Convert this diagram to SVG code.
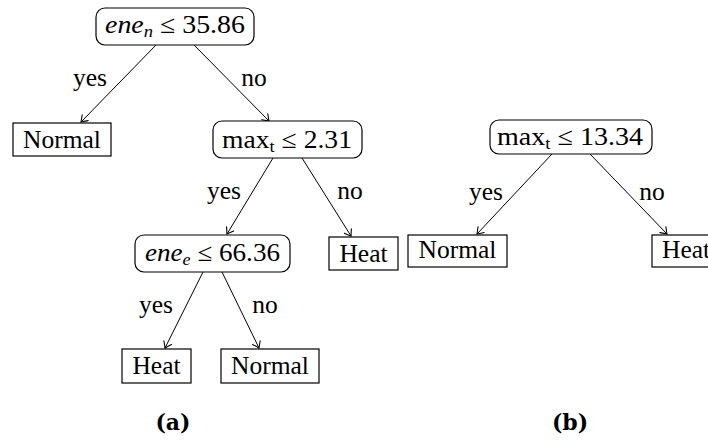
<svg xmlns="http://www.w3.org/2000/svg" width="708" height="441" viewBox="0 0 708 441">
<defs>
<style>
text{font-family:"Liberation Serif","DejaVu Serif",serif;font-size:25.5px;fill:#000}
.lbl{text-anchor:middle}
.cap{font-family:"DejaVu Serif","Liberation Serif",serif;font-weight:bold;font-size:22px;text-anchor:middle}
.it{font-style:italic}
.sub{font-size:17px}
.dec{fill:#fff;stroke:#000;stroke-width:1.2}
.leaf{fill:#fff;stroke:#000;stroke-width:1.2}
.edge{stroke:#000;stroke-width:1;fill:none;marker-end:url(#arr)}
</style>
<marker id="arr" viewBox="-7 -5 8 10" refX="0" refY="0" markerWidth="8" markerHeight="10" markerUnits="userSpaceOnUse" orient="auto">
<path d="M-6,-4.2 Q-1.8,-1.2 0,0 Q-1.8,1.2 -6,4.2" fill="none" stroke="#000" stroke-width="1.1" stroke-linecap="round"/>
</marker>
</defs>
<rect width="708" height="441" fill="#fff"/>
<g id="connectors">
<line class="edge" x1="156" y1="45" x2="81" y2="122"/>
<line class="edge" x1="194" y1="45" x2="269" y2="121"/>
<line class="edge" x1="273" y1="158" x2="227" y2="234"/>
<line class="edge" x1="302" y1="158" x2="351" y2="236"/>
<line class="edge" x1="203" y1="272" x2="165" y2="348"/>
<line class="edge" x1="222" y1="272" x2="259" y2="348"/>
<line class="edge" x1="552" y1="154" x2="477" y2="234"/>
<line class="edge" x1="590" y1="154" x2="667" y2="234"/>
<text x="90" y="86" class="lbl">yes</text>
<text x="254" y="86" class="lbl">no</text>
<text x="224" y="199" class="lbl">yes</text>
<text x="350" y="199" class="lbl">no</text>
<text x="156" y="313" class="lbl">yes</text>
<text x="265" y="313" class="lbl">no</text>
<text x="486" y="200" class="lbl">yes</text>
<text x="652" y="200" class="lbl">no</text>
</g>
<g id="a_root">
<rect class="dec" x="96" y="8" width="158" height="37" rx="9"/>
<text x="175" y="33" class="lbl" textLength="140" lengthAdjust="spacingAndGlyphs"><tspan class="it">ene</tspan><tspan class="it sub" dy="4">n</tspan><tspan dy="-4"> ≤ 35.86</tspan></text>
</g>
<g id="a_normal1">
<rect class="leaf" x="13" y="123" width="98" height="33"/>
<text x="62" y="148" class="lbl">Normal</text>
</g>
<g id="a_max">
<rect class="dec" x="213" y="121" width="149" height="37" rx="9"/>
<text x="287" y="148" class="lbl" textLength="130" lengthAdjust="spacingAndGlyphs">max<tspan class="sub" dy="4">t</tspan><tspan dy="-4"> ≤ 2.31</tspan></text>
</g>
<g id="a_ene_e">
<rect class="dec" x="135" y="235" width="155" height="37" rx="9"/>
<text x="212.5" y="261" class="lbl" textLength="135" lengthAdjust="spacingAndGlyphs"><tspan class="it">ene</tspan><tspan class="it sub" dy="4">e</tspan><tspan dy="-4"> ≤ 66.36</tspan></text>
</g>
<g id="a_heat1">
<rect class="leaf" x="329" y="237" width="69" height="33"/>
<text x="363.5" y="262" class="lbl">Heat</text>
</g>
<g id="a_heat2">
<rect class="leaf" x="122" y="349" width="69" height="34"/>
<text x="156.5" y="374" class="lbl">Heat</text>
</g>
<g id="a_normal2">
<rect class="leaf" x="221" y="349" width="98" height="34"/>
<text x="270" y="374" class="lbl">Normal</text>
</g>
<g id="b_root">
<rect class="dec" x="490" y="120" width="162" height="34" rx="9"/>
<text x="570" y="145" class="lbl" textLength="146" lengthAdjust="spacingAndGlyphs">max<tspan class="sub" dy="4">t</tspan><tspan dy="-4"> ≤ 13.34</tspan></text>
</g>
<g id="b_normal">
<rect class="leaf" x="408" y="235" width="99" height="32"/>
<text x="457.5" y="258" class="lbl">Normal</text>
</g>
<g id="b_heat">
<rect class="leaf" x="652" y="235" width="69" height="32"/>
<text x="662" y="258">Heat</text>
</g>
<text x="173" y="430" class="cap">(a)</text>
<text x="570" y="430" class="cap">(b)</text>
</svg>
